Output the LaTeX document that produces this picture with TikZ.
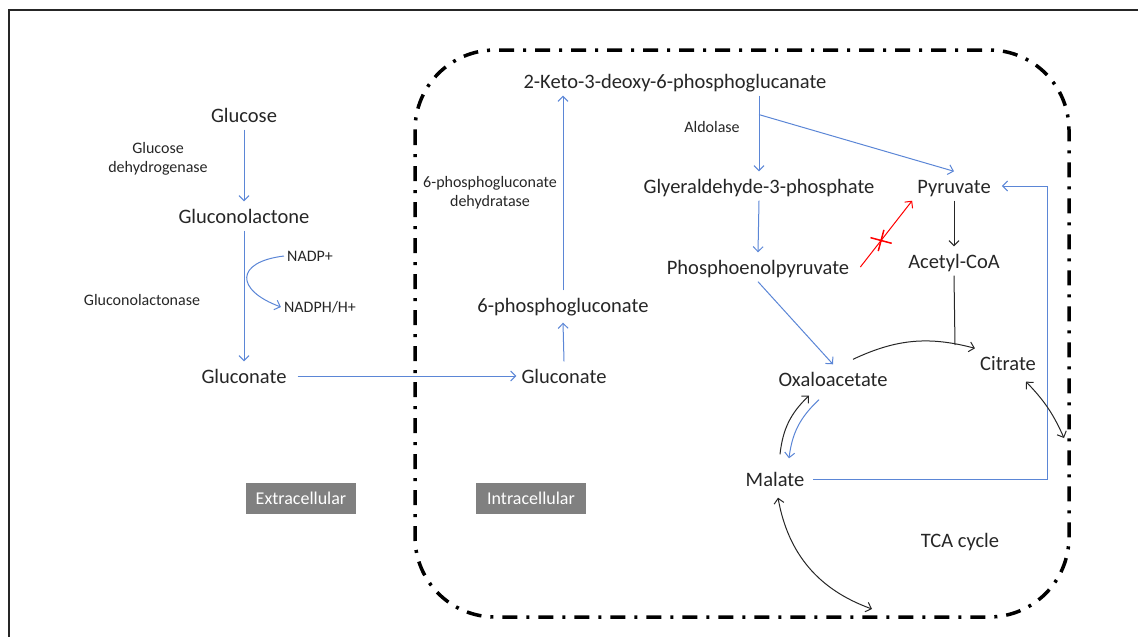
\documentclass[tikz,border=0pt]{standalone}
\usepackage{fontspec}
\setmainfont{Carlito}
\usetikzlibrary{arrows.meta,calc,shapes.misc}
\definecolor{flowblue}{RGB}{91,134,214}
\definecolor{ink}{RGB}{38,38,38}
\definecolor{tagfill}{RGB}{128,128,128}
\tikzset{
  metab/.style={text=ink,font=\fontsize{20.5}{24}\selectfont,text height=17pt,text depth=2pt,inner sep=5pt},
  enzyme/.style={text=ink,font=\fontsize{16}{19}\selectfont,align=center,inner sep=3pt},
  region/.style={fill=tagfill,text=white,font=\fontsize{18}{21}\selectfont,minimum width=110pt,minimum height=31pt,inner sep=0pt},
  flow/.style={draw=flowblue,line width=1pt,->},
  react/.style={draw=ink,line width=1pt,->},
  blocked/.style={draw=red,line width=1pt,->},
}
\begin{document}
\begin{tikzpicture}[x=1pt,y=-1pt,>={Straight Barb[length=5pt,width=10pt]}]
\useasboundingbox (0,0) rectangle (1138,637);
\draw[ink,line width=2pt] (9,637) -- (9,10) -- (1138,10);
\draw[black,line width=3.5pt,dash pattern=on 15pt off 9pt on 3pt off 9pt,rounded corners=80pt] (415,50) rectangle (1069,617);
% extracellular
\node[metab] (glucose) at (244,115) {Glucose};
\node[metab] (lactone) at (244,216) {Gluconolactone};
\node[metab] (gluconateout) at (244,376) {Gluconate};
\node[enzyme] (gdh) at (158,159) {Glucose\\dehydrogenase};
\node[enzyme] (lactonase) at (142,300) {Gluconolactonase};
\node[enzyme] (nadp) at (310,256) {NADP+};
\node[enzyme] (nadph) at (320,307) {NADPH/H+};
\node[region] (extra) at (301,498) {Extracellular};
% intracellular
\node[metab] (gluconatein) at (564,376) {Gluconate};
\node[metab] (pgluconate) at (563,305) {6-phosphogluconate};
\node[metab] (kdpg) at (675,81) {2-Keto-3-deoxy-6-phosphoglucanate};
\node[enzyme] (dehydratase) at (490,193) {6-phosphogluconate\\dehydratase};
\node[enzyme] (aldolase) at (712,127) {Aldolase};
\node[metab] (gap) at (759,186) {Glyeraldehyde-3-phosphate};
\node[metab] (pep) at (758,267) {Phosphoenolpyruvate};
\node[metab] (pyruvate) at (954,186) {Pyruvate};
\node[metab] (acetyl) at (954,261) {Acetyl-CoA};
\node[metab] (citrate) at (1008,363) {Citrate};
\node[metab] (oaa) at (833,379) {Oxaloacetate};
\node[metab] (malate) at (775,479) {Malate};
\node[metab] (tca) at (960,540) {TCA cycle};
\node[region] (intra) at (531,498) {Intracellular};
\coordinate (split) at ($(kdpg.south -| gap.north)!0.25!(gap.north)$);
\coordinate (join) at (955,345);
\coordinate (citout) at (1064,438);
\coordinate (malout) at (872,609);
% connectors
\draw[flow] (glucose.south) -- (lactone.north);
\draw[flow] (lactone.south) -- (gluconateout.north);
\draw[flow] (nadp.west) .. controls (235,262) and (235,290) .. (nadph.west);
\draw[flow] ([xshift=6pt]gluconateout.east) -- (gluconatein.west);
\draw[flow] (gluconatein.north) -- ([yshift=-3pt]pgluconate.south);
\draw[flow] (pgluconate.north) -- (pgluconate.north |- kdpg.south);
\draw[flow] (kdpg.south -| gap.north) -- (gap.north);
\draw[flow] (split) -- (pyruvate.north);
\draw[flow] (gap.south) -- (pep.north);
\draw[flow] (pep.south) -- (oaa.north);
\draw[blocked] ([xshift=6pt]pep.east) -- (pyruvate.south west)
  node[pos=0.4,draw=red,cross out,minimum size=14pt,inner sep=0pt,rotate=30,line width=1.5pt] (stop) {};
\draw[react] (pyruvate.south) -- (acetyl.north);
\draw[ink,line width=1pt] (acetyl.south) -- (join);
\draw[react] ([xshift=20pt,yshift=5pt]oaa.north) to[bend left=20] (citrate.north west);
\draw[react] ([xshift=5pt,yshift=10pt]malate.north) to[bend left=20] ([xshift=-24pt,yshift=-2pt]oaa.south);
\draw[flow] ([xshift=-14pt,yshift=-6pt]oaa.south) to[bend right=20] ([xshift=14pt,yshift=6pt]malate.north);
\draw[flow] ([xshift=4pt]malate.east) -- ++(234,0) |- ([xshift=6pt]pyruvate.east);
\draw[ink,line width=1pt,<->] ([xshift=18pt,yshift=-4pt]citrate.south) to[bend left=10] (citout);
\draw[ink,line width=1pt,<->] ([xshift=3pt,yshift=-4pt]malate.south) to[bend right=30] (malout);
\end{tikzpicture}
\end{document}
